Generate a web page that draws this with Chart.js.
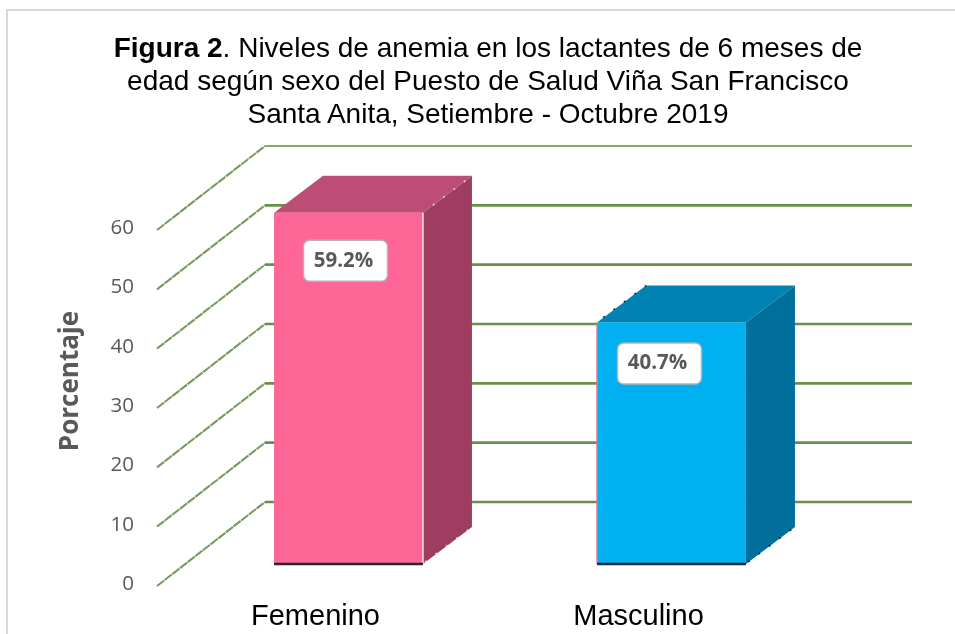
<!DOCTYPE html>
<html>
<head>
<meta charset="utf-8">
<script src="https://cdn.jsdelivr.net/npm/chart.js@4"></script>
<style>
  html, body { margin: 0; padding: 0; background: #fff; overflow: hidden; }
  #wrap { position: relative; width: 955px; height: 634px; }
  #frame { position: absolute; left: 6px; top: 9px; right: -4px; bottom: -4px; border: 2px solid #d9d9d9; }
  #title { position: absolute; left: 38px; top: 31px; width: 900px; text-align: center;
           font: 28px/33px "Liberation Sans", Arial, sans-serif; color: #000; }
  canvas { position: absolute; left: 0; top: 0; }
</style>
</head>
<body>
<div id="wrap">
  <div id="frame"></div>
  <canvas id="anemiaChart" width="955" height="634"></canvas>
  <div id="title"><b>Figura 2</b>. Niveles de anemia en los lactantes de 6 meses de<br>edad según sexo del Puesto de Salud Viña San Francisco<br>Santa Anita, Setiembre - Octubre 2019</div>
</div>
<script>
const categories = ["Femenino", "Masculino"];
const porcentajes = [59.2, 40.7];
const yTicks = [0, 10, 20, 30, 40, 50, 60];
const yAxisTitle = "Porcentaje";

// colours per bar: front, top, side, edge line, rough specks on the 3d edges
const frontColors = ["#fe6698", "#00b0f0"];
const topColors = ["#bd4d75", "#0083b3"];
const sideColors = ["#9e3d5f", "#016f9c"];
const edgeColors = ["#f0e4e8", "#e8708f"];
const speckColors = ["#f3dbe3", "#1a1a1a"];
const gridColor = "#5f8a3f";

// fake 3d: how far the back wall and the bars are pushed
const wall = { dx: 108, dy: -84, right: 912 };
const barDepth = { dx: 49, dy: -37 };
const barShift = { dx: 30, dy: -22 };
const labelOffset = [{ dx: -3, dy: 48 }, { dx: -12, dy: 41 }];

function poly(ctx, pts, fill) {
  ctx.beginPath();
  pts.forEach((p, i) => i ? ctx.lineTo(p[0], p[1]) : ctx.moveTo(p[0], p[1]));
  ctx.closePath();
  ctx.fillStyle = fill;
  ctx.fill();
}

const threeD = {
  id: "threeD",
  beforeDatasetsDraw(chart) {
    const ctx = chart.ctx, y = chart.scales.y, left = chart.chartArea.left;

    // grid: diagonal on the side wall, straight line on the back wall
    ctx.save();
    ctx.strokeStyle = gridColor;
    yTicks.forEach(v => {
      const py = y.getPixelForValue(v);
      ctx.lineWidth = 2.1;
      ctx.globalAlpha = 0.85;
      ctx.setLineDash([9, 0.7]);
      ctx.beginPath();
      ctx.moveTo(left, py);
      ctx.lineTo(left + wall.dx, py + wall.dy);
      ctx.stroke();
      ctx.setLineDash([]);
      ctx.lineWidth = v === y.max ? 1.8 : 2.6;
      ctx.globalAlpha = v === y.max ? 0.75 : 0.95;
      ctx.beginPath();
      ctx.moveTo(left + wall.dx, py + wall.dy);
      ctx.lineTo(wall.right, py + wall.dy);
      ctx.stroke();
    });
    ctx.restore();

    // top and side faces of the bars
    chart.getDatasetMeta(0).data.forEach((bar, i) => {
      const l = bar.x - bar.width / 2 + barShift.dx, r = bar.x + bar.width / 2 + barShift.dx;
      const t = bar.y + barShift.dy, b = bar.base + barShift.dy;
      poly(ctx, [[l, t], [r, t], [r + barDepth.dx, t + barDepth.dy], [l + barDepth.dx, t + barDepth.dy]], topColors[i]);
      poly(ctx, [[r, t], [r + barDepth.dx, t + barDepth.dy], [r + barDepth.dx, b + barDepth.dy], [r, b]], sideColors[i]);

      // specks along the diagonal edges
      ctx.save();
      ctx.strokeStyle = speckColors[i];
      ctx.lineWidth = 1.5;
      ctx.setLineDash([2, 11]);
      ctx.beginPath();
      if (i === 0) {
        ctx.moveTo(r + barDepth.dx * 0.2, t + barDepth.dy * 0.2);
        ctx.lineTo(r + barDepth.dx, t + barDepth.dy);
      } else {
        ctx.moveTo(l + 6, t - 5);
        ctx.lineTo(l + barDepth.dx, t + barDepth.dy);
      }
      ctx.moveTo(r + 2, b - 2);
      ctx.lineTo(r + barDepth.dx, b + barDepth.dy);
      ctx.stroke();
      ctx.restore();
    });

    ctx.save();
    ctx.translate(barShift.dx, barShift.dy);
  },
  afterDatasetsDraw(chart) {
    const ctx = chart.ctx;
    ctx.restore();

    chart.getDatasetMeta(0).data.forEach((bar, i) => {
      const l = bar.x - bar.width / 2 + barShift.dx, r = bar.x + bar.width / 2 + barShift.dx;
      const t = bar.y + barShift.dy, b = bar.base + barShift.dy;

      // light edge on the front face, dark line along its foot
      ctx.strokeStyle = edgeColors[i];
      ctx.lineWidth = 1.5;
      ctx.beginPath();
      const ex = i === 0 ? r : l;
      ctx.moveTo(ex, t);
      ctx.lineTo(ex, b);
      ctx.stroke();
      ctx.strokeStyle = "#26262b";
      ctx.lineWidth = 2.5;
      ctx.beginPath();
      ctx.moveTo(l, b);
      ctx.lineTo(r, b);
      ctx.stroke();

      // value box
      const cx = bar.x + barShift.dx + labelOffset[i].dx, cy = t + labelOffset[i].dy;
      ctx.beginPath();
      ctx.roundRect(cx - 42, cy - 20.5, 84, 41, 6);
      ctx.fillStyle = "#fff";
      ctx.fill();
      ctx.strokeStyle = "#b3b3b3";
      ctx.lineWidth = 1.5;
      ctx.stroke();
      ctx.fillStyle = "#595959";
      ctx.font = 'bold 20.5px "Open Sans"';
      ctx.textAlign = "center";
      ctx.textBaseline = "middle";
      ctx.fillText(porcentajes[i].toFixed(1) + "%", cx - 2, cy);
    });

    // axis title sits higher than the middle of the axis, so it is drawn here
    ctx.save();
    ctx.translate(71, 381);
    ctx.rotate(-Math.PI / 2);
    ctx.fillStyle = "#595959";
    ctx.font = 'bold 26px "Open Sans"';
    ctx.textAlign = "center";
    ctx.textBaseline = "middle";
    ctx.fillText(yAxisTitle, 0, 0);
    ctx.restore();
  }
};

new Chart(document.getElementById("anemiaChart"), {
  type: "bar",
  data: {
    labels: categories,
    datasets: [{
      data: porcentajes,
      backgroundColor: frontColors,
      borderWidth: 0,
      barPercentage: 0.461,
      categoryPercentage: 1,
      clip: false
    }]
  },
  plugins: [threeD],
  options: {
    responsive: false,
    animation: false,
    layout: { padding: { top: 230, right: 152, left: 0, bottom: 0 } },
    plugins: { legend: { display: false }, title: { display: false }, tooltip: { enabled: false } },
    scales: {
      x: {
        afterFit(s) { s.height = 48; },
        grid: { display: false, drawTicks: false },
        border: { display: false },
        ticks: { color: "#000", padding: 14, labelOffset: -3, maxRotation: 0, font: { family: "Liberation Sans", size: 29 } }
      },
      y: {
        min: 0,
        max: 60,
        afterFit(s) { s.width = 157; },
        afterBuildTicks(s) { s.ticks = yTicks.map(v => ({ value: v })); },
        grid: { display: false, drawTicks: false },
        border: { display: false },
        ticks: { color: "#595959", padding: 23, labelOffset: -2, font: { family: "Open Sans", size: 20.5 } }
      }
    }
  }
});
</script>
</body>
</html>
